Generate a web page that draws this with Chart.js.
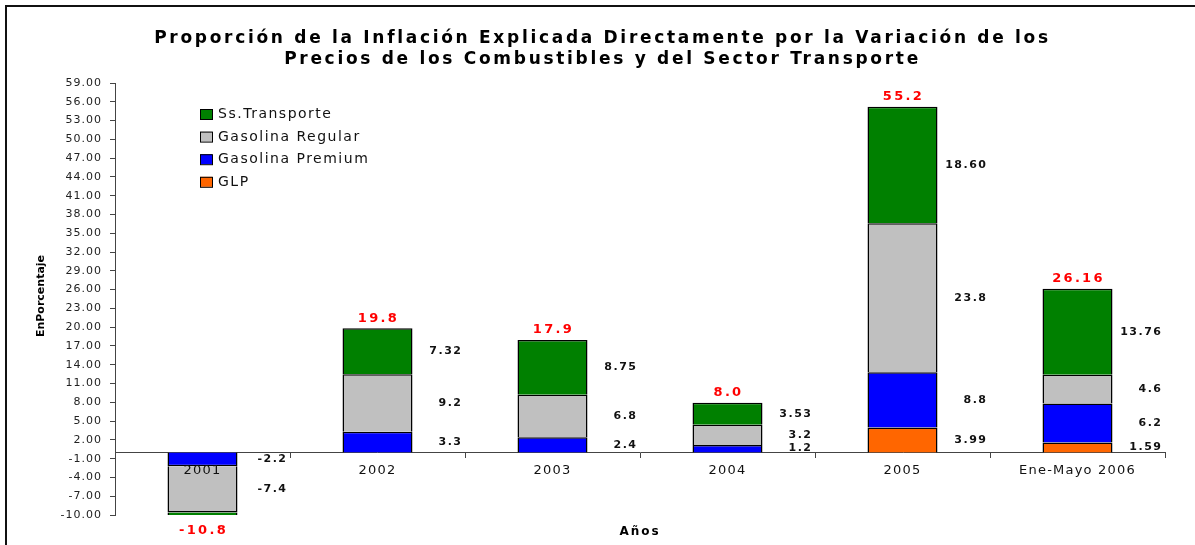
<!DOCTYPE html>
<html><head><meta charset="utf-8">
<script src="https://cdn.jsdelivr.net/npm/chart.js@4/dist/chart.umd.min.js"></script>
<style>
html,body{margin:0;padding:0;background:#fff;overflow:hidden;}
#wrap{position:relative;width:1195px;height:545px;overflow:hidden;}
#frame{position:absolute;left:5px;top:5px;width:1300px;height:700px;border:2px solid #111;box-sizing:border-box;pointer-events:none;}
canvas{position:absolute;left:0;top:0;}
</style></head><body>
<div id="wrap"><canvas id="c" width="1195" height="545"></canvas><div id="frame"></div></div>
<script>
// ---- data ----
const categories = ['2001', '2002', '2003', '2004', '2005', 'Ene-Mayo 2006'];
const glp        = [null, null, null, null, 3.99, 1.59];
const premium    = [-2.2, 3.3, 2.4, 1.2, 8.8, 6.2];
const regular    = [-7.4, 9.2, 6.8, 3.2, 23.8, 4.6];
const transporte = [-1.2, 7.32, 8.75, 3.53, 18.60, 13.76];
const glpLabels        = [null, null, null, null, '3.99', '1.59'];
const premiumLabels    = ['-2.2', '3.3', '2.4', '1.2', '8.8', '6.2'];
const regularLabels    = ['-7.4', '9.2', '6.8', '3.2', '23.8', '4.6'];
const transporteLabels = [null, '7.32', '8.75', '3.53', '18.60', '13.76'];
const totalLabels = ['-10.8', '19.8', '17.9', '8.0', '55.2', '26.16'];
const yMin = -10, yMax = 59, yStep = 3;
const titleLines = ['Proporción de la Inflación Explicada Directamente por la Variación de los',
                    'Precios de los Combustibles y del Sector Transporte'];
const xTitle = 'Años';
const yTitle = 'EnPorcentaje';

const FAM = '"DejaVu Sans", Verdana, sans-serif';

// letter spacing for library-drawn text, keyed by weight-size
const spacingMap = {'bold-17': '2.7px', 'normal-11': '1px', 'normal-13': '1.2px'};
const spacingPlugin = {
  id: 'spacing',
  afterInit(chart) {
    const ctx = chart.ctx;
    const orig = ctx.fillText;
    ctx.fillText = function (t, x, y, m) {
      const f = this.font;
      const sz = (f.match(/(\d+(?:\.\d+)?)px/) || [])[1];
      const w = /bold|[6-9]00/.test(f) ? 'bold' : 'normal';
      const sp = spacingMap[w + '-' + sz];
      if (sp) this.letterSpacing = sp;
      return m === undefined ? orig.call(this, t, x, y) : orig.call(this, t, x, y, m);
    };
  }
};

const labelPlugin = {
  id: 'segLabels',
  afterDatasetsDraw(chart) {
    const ctx = chart.ctx, area = chart.chartArea;
    ctx.save();
    ctx.font = 'bold 11px ' + FAM;
    ctx.letterSpacing = '1.5px';
    ctx.fillStyle = '#111';
    ctx.textAlign = 'right';
    ctx.textBaseline = 'middle';
    chart.data.datasets.forEach((ds, di) => {
      const meta = chart.getDatasetMeta(di);
      meta.data.forEach((bar, i) => {
        const txt = ds.valueLabels[i];
        if (!txt) return;
        const p = bar.getProps(['x', 'y', 'base', 'width'], true);
        const cy = (p.y + p.base) / 2;
        if (cy > area.bottom || cy < area.top) return;
        ctx.fillText(txt, p.x + p.width / 2 + 50, cy);
      });
    });
    // totals
    ctx.font = 'bold 13px ' + FAM;
    ctx.letterSpacing = '2.3px';
    ctx.fillStyle = '#ff0000';
    ctx.textAlign = 'center';
    ctx.textBaseline = 'middle';
    chart.data.labels.forEach((lab, i) => {
      let top = Infinity, bottom = -Infinity, x = null, neg = false;
      chart.data.datasets.forEach((ds, di) => {
        const v = ds.data[i];
        if (v === null || v === undefined) return;
        const bar = chart.getDatasetMeta(di).data[i];
        const p = bar.getProps(['x', 'y', 'base'], true);
        x = p.x;
        top = Math.min(top, p.y, p.base);
        bottom = Math.max(bottom, p.y, p.base);
        if (v < 0) neg = true;
      });
      if (x === null) return;
      if (neg) ctx.fillText(totalLabels[i], x + 1, Math.min(bottom, area.bottom) + 16);
      else ctx.fillText(totalLabels[i], x + 1, top - 10);
    });
    ctx.restore();
  },
  afterDraw(chart) {
    const ctx = chart.ctx, area = chart.chartArea;
    ctx.save();
    // legend
    const order = [3, 2, 1, 0];
    ctx.font = '14px ' + FAM;
    ctx.letterSpacing = '1.5px';
    ctx.textAlign = 'left';
    ctx.textBaseline = 'middle';
    order.forEach((di, k) => {
      const ds = chart.data.datasets[di];
      const cy = area.top + 31 + k * 22.6;
      const bx = area.left + 85;
      ctx.fillStyle = ds.backgroundColor;
      ctx.fillRect(bx, cy - 5, 12, 10);
      ctx.lineWidth = 1;
      ctx.strokeStyle = '#000';
      ctx.strokeRect(bx + 0.5, cy - 4.5, 12, 10);
      ctx.fillStyle = '#111';
      ctx.fillText(ds.label, bx + 18, cy + 0.5);
    });
    // x title
    ctx.font = 'bold 12px ' + FAM;
    ctx.letterSpacing = '2px';
    ctx.textAlign = 'center';
    ctx.fillStyle = '#000';
    ctx.fillText(xTitle, (area.left + area.right) / 2, 532);
    // y title
    ctx.font = 'bold 11px ' + FAM;
    ctx.letterSpacing = '0px';
    ctx.translate(41, (area.top + area.bottom) / 2 - 3);
    ctx.rotate(-Math.PI / 2);
    ctx.fillText(yTitle, 0, 0);
    ctx.restore();
  }
};

const mk = (label, data, color, labels) => ({
  label, data, backgroundColor: color, borderColor: '#000', borderWidth: 1.5,
  borderSkipped: 'start', barPercentage: 0.4, categoryPercentage: 1.0, valueLabels: labels
});

new Chart(document.getElementById('c'), {
  type: 'bar',
  data: {
    labels: categories,
    datasets: [
      mk('GLP', glp, '#ff6600', glpLabels),
      mk('Gasolina Premium', premium, '#0000ff', premiumLabels),
      mk('Gasolina Regular', regular, '#c0c0c0', regularLabels),
      mk('Ss.Transporte', transporte, '#008000', transporteLabels)
    ]
  },
  options: {
    responsive: false,
    animation: false,
    devicePixelRatio: 1,
    layout: {padding: {top: 20, left: 40, right: 30, bottom: 30}},
    plugins: {
      legend: {display: false},
      tooltip: {enabled: false},
      title: {
        display: true, text: titleLines, color: '#000',
        font: {family: FAM, size: 17, weight: 'bold', lineHeight: 21 / 17},
        padding: {top: 8.5, bottom: 12.5}
      }
    },
    scales: {
      x: {
        type: 'category', stacked: true, position: {y: 0}, offset: true,
        grid: {offset: true, drawOnChartArea: false, tickLength: 5, color: '#444'},
        border: {color: '#444', width: 1},
        ticks: {font: {family: FAM, size: 13}, color: '#111', padding: 5, maxRotation: 0, autoSkip: false, z: 1},
        afterFit(s) { s.height = 0; }
      },
      y: {
        stacked: true, min: yMin, max: yMax,
        grid: {drawOnChartArea: false, tickLength: 5, color: '#444'},
        border: {color: '#444', width: 1},
        ticks: {stepSize: yStep, font: {family: FAM, size: 11}, color: '#222', padding: 8,
                callback: v => v.toFixed(2)},
        afterFit(s) { s.width = 75; }
      }
    }
  },
  plugins: [spacingPlugin, labelPlugin]
});
</script>
</body></html>
